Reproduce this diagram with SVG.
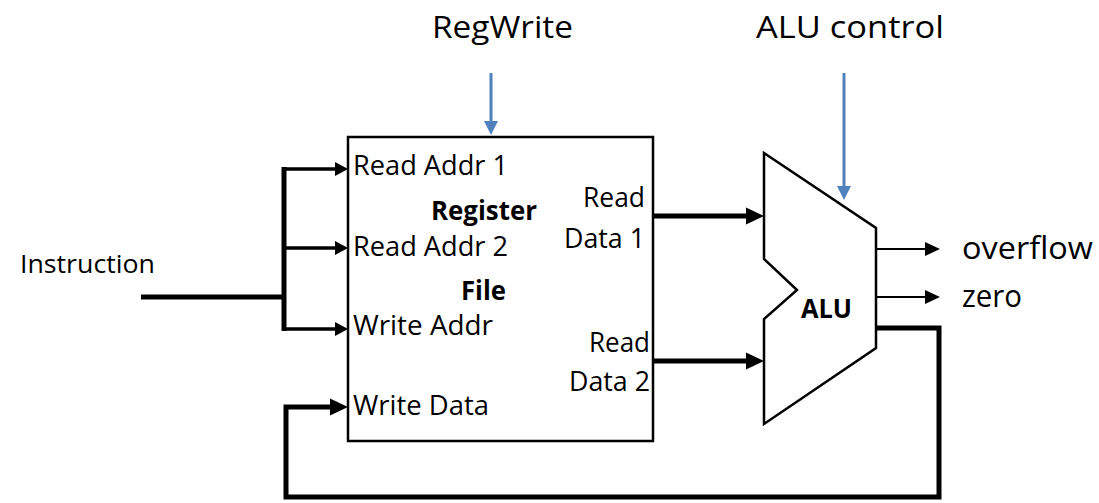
<svg xmlns="http://www.w3.org/2000/svg" width="1099" height="503" viewBox="0 0 1099 503">
<style>
text{font-family:"Open Sans","Liberation Sans",sans-serif;fill:#000}
.lbl{font-size:28px}
.big{font-size:31px}
.b{font-weight:bold;font-size:26px}
.w{fill:none;stroke:#000;stroke-linejoin:miter}
.blue{fill:none;stroke:#4F81BD;stroke-width:3}
</style>
<defs>
<marker id="hb" markerUnits="userSpaceOnUse" markerWidth="18" markerHeight="18" refX="0" refY="8.5" orient="auto" overflow="visible"><path d="M0,0 L18,8.5 L0,17 z" fill="#000"/></marker>
<marker id="hm" markerUnits="userSpaceOnUse" markerWidth="14" markerHeight="14" refX="0" refY="7" orient="auto" overflow="visible"><path d="M0,0 L13,7 L0,14 z" fill="#000"/></marker>
<marker id="hs" markerUnits="userSpaceOnUse" markerWidth="15" markerHeight="14" refX="0" refY="7" orient="auto" overflow="visible"><path d="M0,0 L15,7 L0,14 z" fill="#000"/></marker>
<marker id="hblue" markerUnits="userSpaceOnUse" markerWidth="14" markerHeight="14" refX="0" refY="7" orient="auto" overflow="visible"><path d="M0,0 L14,7 L0,14 z" fill="#4F81BD"/></marker>
</defs>
<rect width="1099" height="503" fill="#fff"/>

<g id="connectors">
<path class="w" d="M141,297 H284" stroke-width="5"/>
<path class="w" d="M284,167 V331" stroke-width="5"/>
<path class="w" d="M284,169 H335" stroke-width="3.5" marker-end="url(#hm)"/>
<path class="w" d="M284,248 H335" stroke-width="3.5" marker-end="url(#hm)"/>
<path class="w" d="M284,329 H335" stroke-width="3.5" marker-end="url(#hm)"/>
<path class="w" d="M653,216 H746" stroke-width="5" marker-end="url(#hb)"/>
<path class="w" d="M653,361 H746" stroke-width="5" marker-end="url(#hb)"/>
<path class="w" d="M876,249 H925" stroke-width="2" marker-end="url(#hs)"/>
<path class="w" d="M876,297 H925" stroke-width="2" marker-end="url(#hs)"/>
<path class="w" d="M876,328 H939 V497 H286 V407 H330" stroke-width="5" marker-end="url(#hb)"/>
<path class="blue" d="M491,73 V121" marker-end="url(#hblue)"/>
<path class="blue" d="M844,73 V186" marker-end="url(#hblue)"/>
</g>

<g id="labels">
<text class="big" x="432" y="38" textLength="141" lengthAdjust="spacingAndGlyphs">RegWrite</text>
<text class="big" x="756" y="38" textLength="188" lengthAdjust="spacingAndGlyphs">ALU control</text>
<text x="20" y="273" font-size="25" textLength="135" lengthAdjust="spacingAndGlyphs">Instruction</text>
<text class="big" x="962" y="259" textLength="131" lengthAdjust="spacingAndGlyphs">overflow</text>
<text class="big" x="962" y="307" textLength="60" lengthAdjust="spacingAndGlyphs">zero</text>
</g>

<g id="register-file">
<rect x="348" y="137" width="305" height="304" fill="#fff" stroke="#000" stroke-width="2.5"/>
<text class="lbl" x="353" y="175" textLength="155" lengthAdjust="spacingAndGlyphs">Read Addr 1</text>
<text class="lbl" x="353" y="256" textLength="155" lengthAdjust="spacingAndGlyphs">Read Addr 2</text>
<text class="lbl" x="353" y="335" textLength="140" lengthAdjust="spacingAndGlyphs">Write Addr</text>
<text class="lbl" x="353" y="415" textLength="136" lengthAdjust="spacingAndGlyphs">Write Data</text>
<text class="b" x="431" y="220" font-size="25" textLength="106" lengthAdjust="spacingAndGlyphs">Register</text>
<text class="b" x="461" y="300" textLength="45" lengthAdjust="spacingAndGlyphs">File</text>
<text class="lbl" x="645" y="207" text-anchor="end" textLength="62" lengthAdjust="spacingAndGlyphs">Read</text>
<text class="lbl" x="645" y="248" text-anchor="end" textLength="81" lengthAdjust="spacingAndGlyphs">Data 1</text>
<text class="lbl" x="650" y="352" text-anchor="end" textLength="61" lengthAdjust="spacingAndGlyphs">Read</text>
<text class="lbl" x="650" y="391" text-anchor="end" textLength="81" lengthAdjust="spacingAndGlyphs">Data 2</text>
</g>

<g id="alu">
<polygon points="764,153 876,228 876,348 764,424 764,319 797,290 764,259" fill="#fff" stroke="#000" stroke-width="2.5" stroke-linejoin="miter"/>
<text class="b" x="801" y="318" textLength="51" lengthAdjust="spacingAndGlyphs">ALU</text>
</g>
</svg>
